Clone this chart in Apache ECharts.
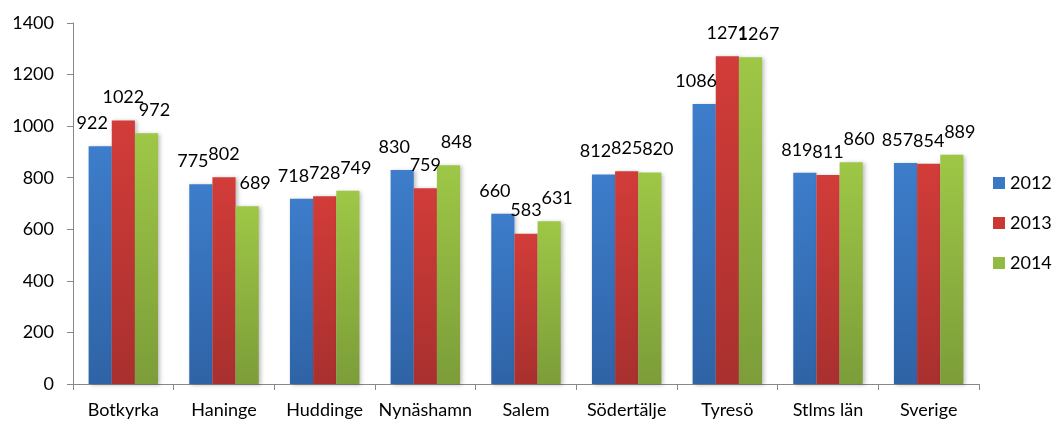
<!DOCTYPE html>
<html>
<head>
<meta charset="utf-8">
<script src="https://cdn.jsdelivr.net/npm/echarts@6/dist/echarts.min.js"></script>
<style>html,body{margin:0;padding:0;background:#fff}#c{width:1053px;height:422px}</style>
</head>
<body>
<div id="c"></div>
<script>
const categories = ['Botkyrka','Haninge','Huddinge','Nynäshamn','Salem','Södertälje','Tyresö','Stlms län','Sverige'];
const seriesNames = ['2012','2013','2014'];
const values2012 = [922, 775, 718, 830, 660, 812, 1086, 819, 857];
const values2013 = [1022, 802, 728, 759, 583, 825, 1271, 811, 854];
const values2014 = [972, 689, 749, 848, 631, 820, 1267, 860, 889];
const yTicks = [0, 200, 400, 600, 800, 1000, 1200, 1400];

const FONT = 'Lato';
const grad = (top, bottom) => new echarts.graphic.LinearGradient(0, 0, 0, 1, [
  {offset: 0, color: top}, {offset: 1, color: bottom}
]);
const styles = [
  {top: '#3D7DCB', bottom: '#2F63A6', legend: '#3A78C6', dx: -8},
  {top: '#D23C39', bottom: '#A8302E', legend: '#C93835', dx: 0},
  {top: '#9EC746', bottom: '#7C9D39', legend: '#93BB43', dx: 8}
];
const allValues = [values2012, values2013, values2014];

const chart = echarts.init(document.getElementById('c'));
chart.setOption({
  animation: false,
  textStyle: {fontFamily: FONT},
  grid: {left: 73, right: 74, top: 23, bottom: 38, containLabel: false},
  legend: {
    orient: 'vertical',
    left: 988, top: 169,
    itemWidth: 12, itemHeight: 12, itemGap: 22,
    icon: 'rect',
    textStyle: {fontFamily: FONT, fontSize: 18, color: '#000'},
    data: seriesNames.map((n, i) => ({name: n, itemStyle: {color: styles[i].legend}}))
  },
  xAxis: {
    type: 'category',
    data: categories,
    axisLine: {lineStyle: {color: '#888', width: 1}},
    axisTick: {show: true, length: 6, interval: 0, lineStyle: {color: '#888'}},
    axisLabel: {color: '#000', fontSize: 18, fontFamily: FONT, margin: 17, interval: 0}
  },
  yAxis: {
    type: 'value',
    min: 0, max: 1400, interval: 200,
    axisLine: {show: true, lineStyle: {color: '#888', width: 1}},
    axisTick: {show: true, length: 6, lineStyle: {color: '#888'}},
    splitLine: {show: false},
    axisLabel: {color: '#000', fontSize: 18, fontFamily: FONT, margin: 19,
      formatter: v => yTicks.includes(v) ? String(v) : ''}
  },
  series: allValues.map((vals, i) => ({
    name: seriesNames[i],
    type: 'bar',
    data: vals,
    barGap: '0%',
    barCategoryGap: '31%',
    itemStyle: {
      color: grad(styles[i].top, styles[i].bottom),
      shadowColor: 'rgba(0,0,0,0.25)', shadowBlur: 4, shadowOffsetX: 2, shadowOffsetY: 1
    },
    label: {
      show: true, position: 'top', distance: 14, offset: [styles[i].dx, 0],
      color: '#000', fontSize: 18, fontFamily: FONT
    }
  }))
});
</script>
</body>
</html>
